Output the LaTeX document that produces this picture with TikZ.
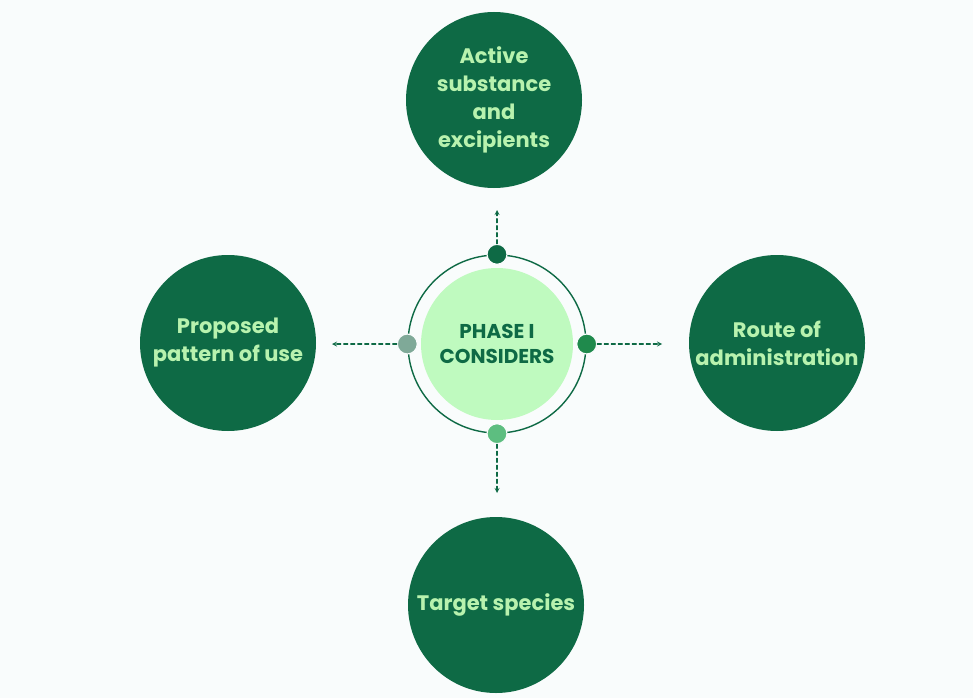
\documentclass[tikz,border=0pt]{standalone}
\usepackage{fontspec}
\setmainfont{Poppins}
\definecolor{paper}{HTML}{F9FCFC}
\definecolor{leaf}{HTML}{0E6A45}
\definecolor{mint}{HTML}{BFFABF}
\definecolor{sprout}{HTML}{B8F2AE}
\definecolor{portA}{HTML}{0E6A45}
\definecolor{portB}{HTML}{1F8A4C}
\definecolor{portC}{HTML}{7FA998}
\definecolor{portD}{HTML}{5DBE80}
\begin{document}
\begin{tikzpicture}[x=1pt, y=-1pt, line join=round, line cap=round, >=stealth,
	topic/.style={circle, fill=leaf, text=sprout, minimum size=176pt, inner sep=0pt, align=center, font=\fontsize{21}{28}\selectfont\bfseries},
	port/.style={circle, minimum size=20pt, inner sep=0pt, draw=paper, line width=1.2pt},
	link/.style={->, draw=leaf, line width=1.2pt, dash pattern=on 4pt off 3pt}]
		\def\cx{497}\def\cy{344}
		\fill[paper] (0,0) rectangle (973,698);
		% hub
		\node[circle, draw=leaf, line width=1.4pt, minimum size=178pt, inner sep=0pt] (ring) at (\cx,\cy) {};
		\node[circle, fill=mint, text=leaf, minimum size=152pt, inner sep=0pt, align=center, font=\fontsize{20}{25}\selectfont\bfseries] (hub) at (\cx,\cy) {PHASE I\\CONSIDERS};
		% ports on the ring
		\node[port, fill=portA] (pt) at (ring.north) {};
		\node[port, fill=portB] (pr) at (ring.east) {};
		\node[port, fill=portC] (pl) at (ring.west) {};
		\node[port, fill=portD] (pb) at (ring.south) {};
		% topics
		\node[topic] (sub) at (494,100) {Active\\substance\\and\\excipients};
		\node[topic] (use) at (228,343) {Proposed\\pattern of use};
		\node[topic] (route) at (777,343) {Route of\\administration};
		\node[topic] (spec) at (496,605) {Target species};
		% dashed arrows
		\coordinate (et) at (\cx,210);
		\coordinate (er) at (662,\cy);
		\coordinate (el) at (332,\cy);
		\coordinate (eb) at (\cx,493);
		\draw[link] (pt) -- (et);
		\draw[link] (pr) -- (er);
		\draw[link] (pl) -- (el);
		\draw[link] (pb) -- (eb);
\end{tikzpicture}
\end{document}
